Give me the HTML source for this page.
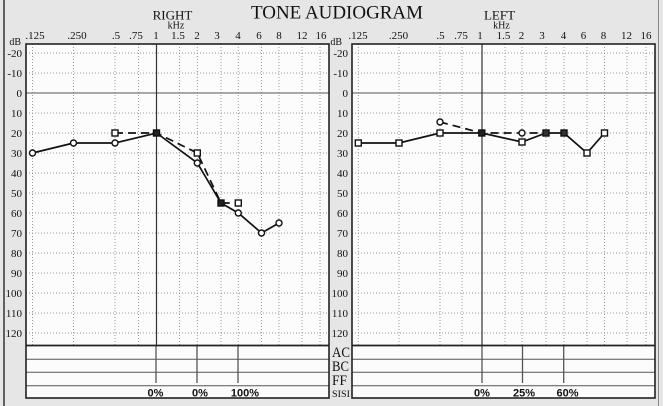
<!DOCTYPE html>
<html><head><meta charset="utf-8"><style>
html,body{margin:0;padding:0;background:#e6e6e6;}
svg{display:block;}
.t{font-family:"Liberation Serif",serif;fill:#111;}
.s{font-family:"Liberation Sans",sans-serif;font-weight:bold;fill:#111;}
.g{stroke:#9a9a9a;stroke-width:1;stroke-dasharray:1 2;fill:none;}
</style></head><body>
<svg width="663" height="406" viewBox="0 0 663 406" xmlns="http://www.w3.org/2000/svg">
<rect x="0" y="0" width="663" height="406" fill="#e6e6e6"/>
<line x1="4" y1="0" x2="4" y2="406" stroke="#333" stroke-width="1.5"/>
<line x1="658.5" y1="0" x2="658.5" y2="406" stroke="#888" stroke-width="1"/>

<!-- Titles -->
<text class="t" x="251" y="18.6" font-size="19" textLength="172" lengthAdjust="spacingAndGlyphs">TONE AUDIOGRAM</text>
<text class="t" x="172.5" y="19.5" font-size="13" text-anchor="middle">RIGHT</text>
<text class="t" x="176" y="28.5" font-size="10" text-anchor="middle">kHz</text>
<text class="t" x="499.5" y="19.5" font-size="13" text-anchor="middle">LEFT</text>
<text class="t" x="501.5" y="28.5" font-size="10" text-anchor="middle">kHz</text>

<!-- Left chart -->
<rect x="26" y="44" width="303" height="354" fill="#fcfcfc" stroke="none"/>
<g class="g">
<line x1="32.5" y1="44" x2="32.5" y2="345"/><line x1="73.5" y1="44" x2="73.5" y2="345"/>
<line x1="115" y1="44" x2="115" y2="345"/><line x1="138.5" y1="44" x2="138.5" y2="345"/>
<line x1="179.5" y1="44" x2="179.5" y2="345"/><line x1="197.3" y1="44" x2="197.3" y2="345"/>
<line x1="221" y1="44" x2="221" y2="345"/><line x1="238.3" y1="44" x2="238.3" y2="345"/>
<line x1="261.5" y1="44" x2="261.5" y2="345"/><line x1="279" y1="44" x2="279" y2="345"/>
<line x1="302" y1="44" x2="302" y2="345"/><line x1="320" y1="44" x2="320" y2="345"/>
<line x1="26" y1="53" x2="329" y2="53"/><line x1="26" y1="73" x2="329" y2="73"/>
<line x1="26" y1="113" x2="329" y2="113"/><line x1="26" y1="133" x2="329" y2="133"/>
<line x1="26" y1="153" x2="329" y2="153"/><line x1="26" y1="173" x2="329" y2="173"/>
<line x1="26" y1="193" x2="329" y2="193"/><line x1="26" y1="213" x2="329" y2="213"/>
<line x1="26" y1="233" x2="329" y2="233"/><line x1="26" y1="253" x2="329" y2="253"/>
<line x1="26" y1="273" x2="329" y2="273"/><line x1="26" y1="293" x2="329" y2="293"/>
<line x1="26" y1="313" x2="329" y2="313"/><line x1="26" y1="333" x2="329" y2="333"/>
</g>
<line x1="26" y1="93" x2="329" y2="93" stroke="#777" stroke-width="1.2"/>
<line x1="156.5" y1="44" x2="156.5" y2="345" stroke="#333" stroke-width="1.2"/>
<g stroke="#555" stroke-width="1">
<line x1="26" y1="359.3" x2="329" y2="359.3"/><line x1="26" y1="372.3" x2="329" y2="372.3"/><line x1="26" y1="385.7" x2="329" y2="385.7"/>
<line x1="156" y1="346" x2="156" y2="383" stroke-width="1.3"/><line x1="197" y1="346" x2="197" y2="383" stroke-width="1.3"/><line x1="238" y1="346" x2="238" y2="383" stroke-width="1.3"/>
</g>
<line x1="26" y1="345.5" x2="329" y2="345.5" stroke="#222" stroke-width="1.8"/>
<rect x="26" y="44" width="303" height="354" fill="none" stroke="#222" stroke-width="1.6"/>

<!-- Right chart -->
<rect x="352" y="44" width="303" height="354" fill="#fcfcfc" stroke="none"/>
<g class="g">
<line x1="358.3" y1="44" x2="358.3" y2="345"/><line x1="399" y1="44" x2="399" y2="345"/>
<line x1="440" y1="44" x2="440" y2="345"/><line x1="462" y1="44" x2="462" y2="345"/>
<line x1="505" y1="44" x2="505" y2="345"/><line x1="522" y1="44" x2="522" y2="345"/>
<line x1="546" y1="44" x2="546" y2="345"/><line x1="564" y1="44" x2="564" y2="345"/>
<line x1="587" y1="44" x2="587" y2="345"/><line x1="604.5" y1="44" x2="604.5" y2="345"/>
<line x1="627" y1="44" x2="627" y2="345"/><line x1="646" y1="44" x2="646" y2="345"/>
<line x1="352" y1="53" x2="655" y2="53"/><line x1="352" y1="73" x2="655" y2="73"/>
<line x1="352" y1="113" x2="655" y2="113"/><line x1="352" y1="133" x2="655" y2="133"/>
<line x1="352" y1="153" x2="655" y2="153"/><line x1="352" y1="173" x2="655" y2="173"/>
<line x1="352" y1="193" x2="655" y2="193"/><line x1="352" y1="213" x2="655" y2="213"/>
<line x1="352" y1="233" x2="655" y2="233"/><line x1="352" y1="253" x2="655" y2="253"/>
<line x1="352" y1="273" x2="655" y2="273"/><line x1="352" y1="293" x2="655" y2="293"/>
<line x1="352" y1="313" x2="655" y2="313"/><line x1="352" y1="333" x2="655" y2="333"/>
</g>
<line x1="352" y1="93" x2="655" y2="93" stroke="#777" stroke-width="1.2"/>
<line x1="482" y1="44" x2="482" y2="345" stroke="#333" stroke-width="1.2"/>
<g stroke="#555" stroke-width="1">
<line x1="352" y1="359.3" x2="655" y2="359.3"/><line x1="352" y1="372.3" x2="655" y2="372.3"/><line x1="352" y1="385.7" x2="655" y2="385.7"/>
<line x1="482" y1="346" x2="482" y2="383" stroke-width="1.3"/><line x1="522.5" y1="346" x2="522.5" y2="383" stroke-width="1.3"/><line x1="563.7" y1="346" x2="563.7" y2="383" stroke-width="1.3"/>
</g>
<line x1="352" y1="345.5" x2="655" y2="345.5" stroke="#222" stroke-width="1.8"/>
<rect x="352" y="44" width="303" height="354" fill="none" stroke="#222" stroke-width="1.6"/>

<!-- Frequency labels -->
<g class="t" font-size="11" text-anchor="middle">
<text x="35" y="39">.125</text><text x="77" y="39">.250</text><text x="116" y="39">.5</text><text x="136" y="39">.75</text>
<text x="156" y="39">1</text><text x="178" y="39">1.5</text><text x="197" y="39">2</text><text x="217" y="39">3</text>
<text x="238" y="39">4</text><text x="259" y="39">6</text><text x="279" y="39">8</text><text x="302" y="39">12</text><text x="321" y="39">16</text>
<text x="358" y="39">.125</text><text x="398.5" y="39">.250</text><text x="440.5" y="39">.5</text><text x="461" y="39">.75</text>
<text x="480" y="39">1</text><text x="503.5" y="39">1.5</text><text x="521.5" y="39">2</text><text x="542" y="39">3</text>
<text x="563.5" y="39">4</text><text x="583.5" y="39">6</text><text x="603.5" y="39">8</text><text x="626.5" y="39">12</text><text x="646" y="39">16</text>
</g>

<!-- dB labels -->
<g class="t" font-size="11" text-anchor="end">
<text x="21" y="45" font-size="10">dB</text>
<text x="22" y="57">-20</text><text x="22" y="77">-10</text><text x="22" y="97">0</text><text x="22" y="117">10</text>
<text x="22" y="137">20</text><text x="22" y="157">30</text><text x="22" y="177">40</text><text x="22" y="197">50</text>
<text x="22" y="217">60</text><text x="22" y="237">70</text><text x="22" y="257">80</text><text x="22" y="277">90</text>
<text x="22" y="297">100</text><text x="22" y="317">110</text><text x="22" y="337">120</text>
<text x="342" y="45" font-size="10">dB</text>
<text x="348" y="57">-20</text><text x="348" y="77">-10</text><text x="348" y="97">0</text><text x="348" y="117">10</text>
<text x="348" y="137">20</text><text x="348" y="157">30</text><text x="348" y="177">40</text><text x="348" y="197">50</text>
<text x="348" y="217">60</text><text x="348" y="237">70</text><text x="348" y="257">80</text><text x="348" y="277">90</text>
<text x="348" y="297">100</text><text x="348" y="317">110</text><text x="348" y="337">120</text>
</g>

<!-- AC BC FF SISI -->
<text class="t" x="332" y="357" font-size="15" textLength="18" lengthAdjust="spacingAndGlyphs">AC</text>
<text class="t" x="332" y="371" font-size="15" textLength="17" lengthAdjust="spacingAndGlyphs">BC</text>
<text class="t" x="332" y="385" font-size="15" textLength="15" lengthAdjust="spacingAndGlyphs">FF</text>
<text class="t" x="332" y="397" font-size="9" textLength="18" lengthAdjust="spacingAndGlyphs">SISI</text>

<!-- Percent labels -->
<g class="s" font-size="11" text-anchor="middle">
<text x="155.5" y="396.5">0%</text><text x="200" y="396.5">0%</text><text x="245" y="396.5">100%</text>
<text x="482" y="396.5">0%</text><text x="524" y="396.5">25%</text><text x="567.5" y="396.5">60%</text>
</g>

<!-- Left chart data -->
<g fill="none" stroke="#111" stroke-width="1.7">
<polyline points="32.5,153 73.5,143 115,143 156.5,133 197.3,163 221,203 238.3,213 261.5,233 279,223"/>
<polyline points="115,133 156.5,133 197.3,153 221,203 238.3,203" stroke-dasharray="8 5"/>
</g>
<g fill="#fff" stroke="#111" stroke-width="1.4">
<circle cx="32.5" cy="153" r="3"/><circle cx="73.5" cy="143" r="3"/><circle cx="115" cy="143" r="3"/>
<circle cx="197.3" cy="163" r="3"/><circle cx="238.3" cy="213" r="3"/><circle cx="261.5" cy="233" r="3"/><circle cx="279" cy="223" r="3"/>
<rect x="112" y="130" width="6" height="6"/><rect x="194.3" y="150" width="6" height="6"/><rect x="235.3" y="200" width="6" height="6"/>
<rect x="153.5" y="130" width="6" height="6" fill="#222"/><rect x="218" y="200" width="6" height="6" fill="#222"/>
</g>

<!-- Right chart data -->
<g fill="none" stroke="#111" stroke-width="1.7">
<polyline points="358.3,143 399,143 440,133 481.8,133 522,142 546,133 564,133 587,153 604.5,133"/>
<polyline points="440,122 481.8,133 522,133 546,133" stroke-dasharray="8 5"/>
</g>
<g fill="#fff" stroke="#111" stroke-width="1.4">
<rect x="355.3" y="140" width="6" height="6"/><rect x="396" y="140" width="6" height="6"/><rect x="437" y="130" width="6" height="6"/>
<rect x="519" y="139" width="6" height="6"/><rect x="584" y="150" width="6" height="6"/><rect x="601.5" y="130" width="6" height="6"/>
<rect x="478.8" y="130" width="6" height="6" fill="#222"/><rect x="543" y="130" width="6" height="6" fill="#333"/><rect x="561" y="130" width="6" height="6" fill="#333"/>
<circle cx="440" cy="122" r="3"/><circle cx="522" cy="133" r="3"/>
</g>
</svg>
</body></html>
